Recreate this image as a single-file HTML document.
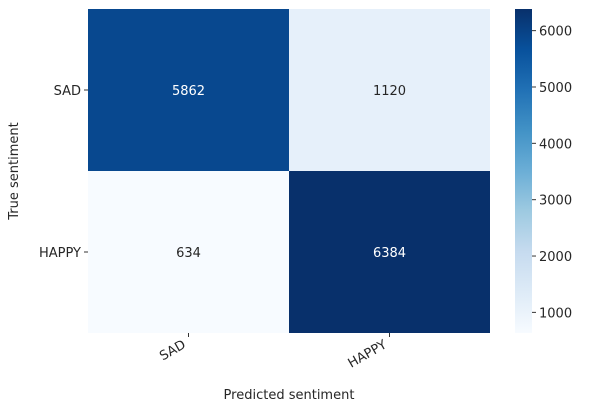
<!DOCTYPE html>
<html><head><meta charset="utf-8"><style>
body{margin:0;background:#fff;font-family:"Liberation Sans","DejaVu Sans",sans-serif}
svg text{font-family:"DejaVu Sans","Liberation Sans",sans-serif;font-size:13px;fill:#262626}
</style></head><body>
<svg id="c" width="591" height="411"></svg>
<script>
const rowLabels=["SAD","HAPPY"];
const colLabels=["SAD","HAPPY"];
const values=[[5862,1120],[634,6384]];
const cbTicks=[1000,2000,3000,4000,5000,6000];
const blues=["#f7fbff","#deebf7","#c6dbef","#9ecae1","#6baed6","#4292c6","#2171b5","#08519c","#08306b"];
const svg=document.getElementById('c');
const NS="http://www.w3.org/2000/svg";
function mk(t,a,p){const e=document.createElementNS(NS,t);for(const k in a)e.setAttribute(k,a[k]);(p||svg).appendChild(e);return e;}
const flat=values.flat();const vmin=Math.min(...flat),vmax=Math.max(...flat);
function hex(h){return [1,3,5].map(i=>parseInt(h.substr(i,2),16));}
function cmap(v){let f=(v-vmin)/(vmax-vmin);f=Math.max(0,Math.min(1,f));const p=f*(blues.length-1);const i=Math.min(Math.floor(p),blues.length-2);const t=p-i;const a=hex(blues[i]),b=hex(blues[i+1]);return "rgb("+a.map((x,k)=>Math.round(x+(b[k]-x)*t)).join(",")+")";}
const X0=88,X1=490,Y0=9,Y1=333;
const cw=(X1-X0)/colLabels.length,ch=(Y1-Y0)/rowLabels.length;
values.forEach((row,r)=>row.forEach((v,c)=>{
 const rc=mk('rect',{x:X0+c*cw,y:Y0+r*ch,width:cw,height:ch,fill:cmap(v)});
 
 
 const f=(v-vmin)/(vmax-vmin);
 const tx=mk('text',{x:X0+c*cw+cw/2,y:Y0+r*ch+ch/2+5,'text-anchor':'middle'});
 tx.style.fill=f>0.5?'#ffffff':'#262626';tx.textContent=v;
 
 
}));
rowLabels.forEach((l,r)=>{const y=Y0+r*ch+ch/2;mk('line',{x1:X0-4,x2:X0,y1:y,y2:y,stroke:'#333'});
 const t=mk('text',{x:X0-7,y:y+5,'text-anchor':'end'});t.textContent=l;
 
 });
colLabels.forEach((l,c)=>{const x=X0+c*cw+cw/2;mk('line',{x1:x,x2:x,y1:Y1,y2:Y1+4,stroke:'#333'});
 const t=mk('text',{x:x-2,y:Y1+14,'text-anchor':'end',transform:`rotate(-30 ${x-2} ${Y1+14})`});t.textContent=l;
 
 });
const xt=mk('text',{x:289,y:399,'text-anchor':'middle'});xt.textContent='Predicted sentiment';


const yt=mk('text',{x:18,y:171,'text-anchor':'middle',transform:'rotate(-90 18 171)'});yt.textContent='True sentiment';


const CX=515,CW=17;
const defs=mk('defs',{});const g=mk('linearGradient',{id:'cb',x1:0,y1:1,x2:0,y2:0},defs);
blues.forEach((b,i)=>mk('stop',{offset:i/(blues.length-1),'stop-color':b},g));
const cb=mk('rect',{x:CX,y:Y0,width:CW,height:Y1-Y0,fill:'url(#cb)'});


function cy(v){return Y1-(v-vmin)/(vmax-vmin)*(Y1-Y0);}
cbTicks.forEach(v=>{const y=cy(v);mk('line',{x1:CX+CW,x2:CX+CW+4,y1:y,y2:y,stroke:'#333'});
 const t=mk('text',{x:CX+CW+7,y:y+5});t.textContent=v;
 
 });
</script>
</body></html>
